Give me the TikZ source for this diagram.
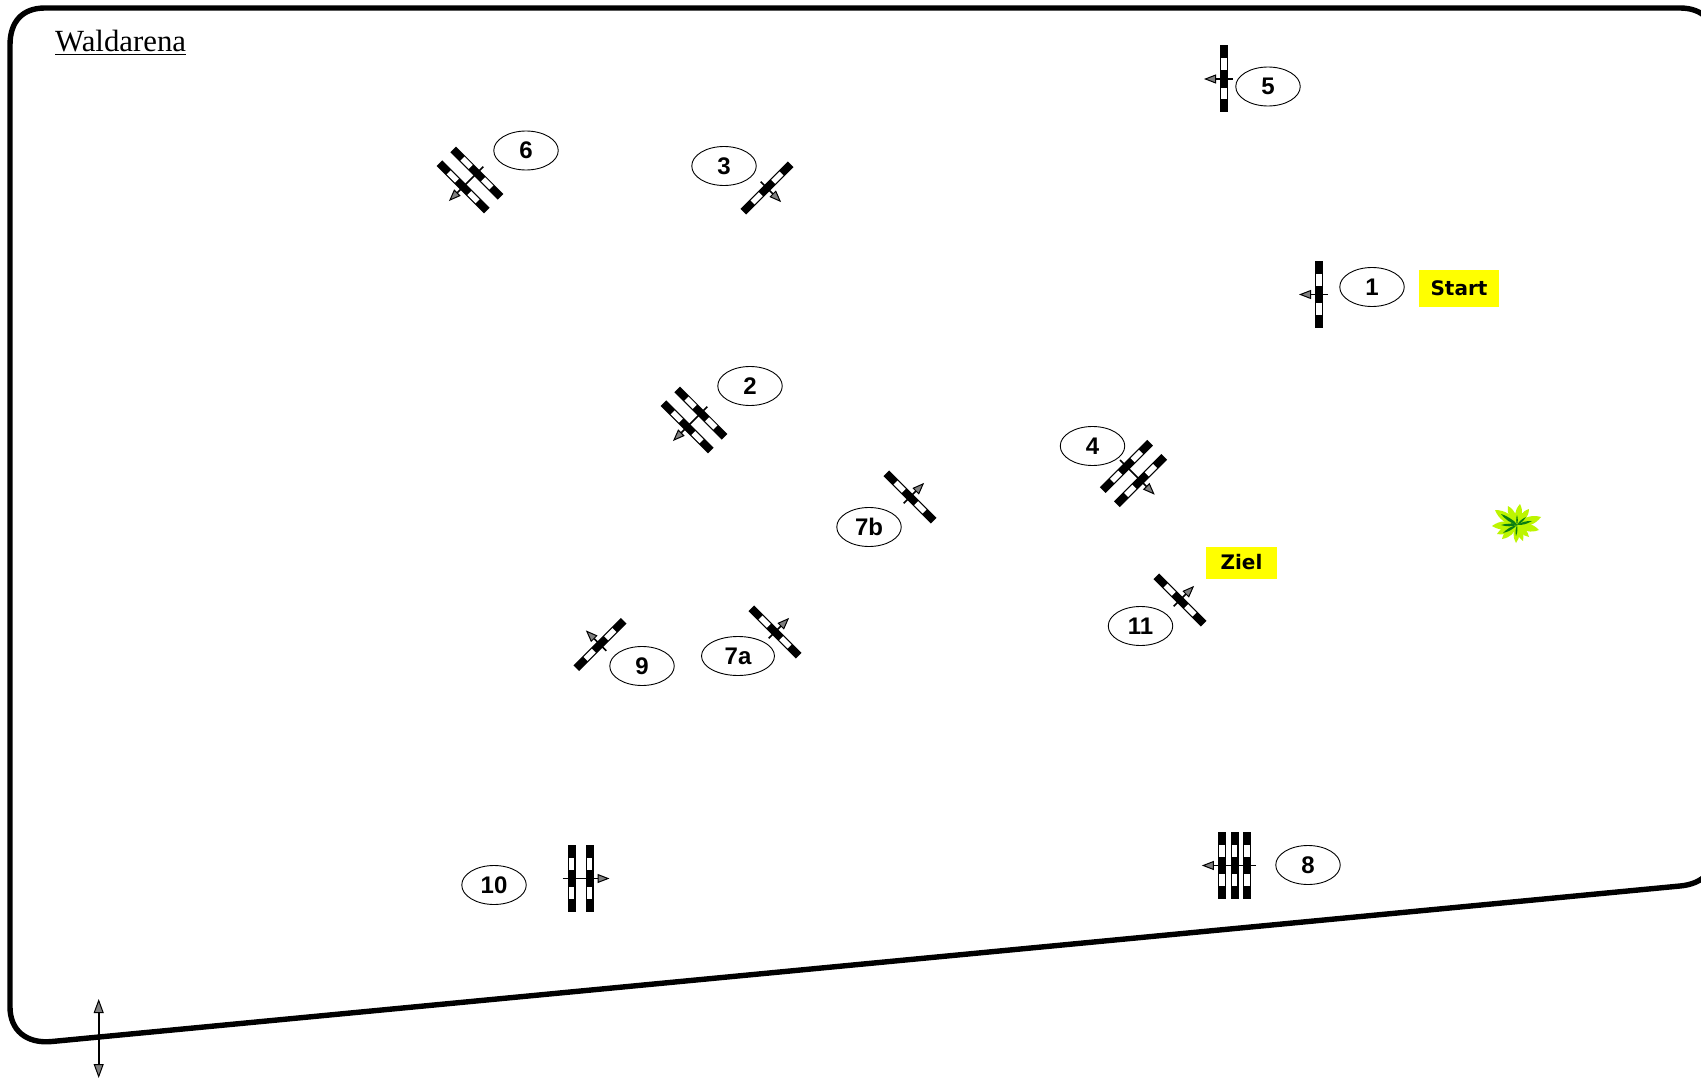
\documentclass[tikz,border=0pt]{standalone}
\usepackage{fontspec}
\setmainfont{Liberation Serif}
\newfontfamily\labelfont[Ligatures=TeX]{Liberation Sans}
\newfontfamily\tagfont{DejaVu Sans}
\usetikzlibrary{arrows.meta,shapes.geometric}
\definecolor{leaflime}{HTML}{BDF500}
\definecolor{leafdark}{HTML}{0A7D12}
\definecolor{tagyellow}{HTML}{FFFF00}
\tikzset{
  frameline/.style={line width=5.4pt,line join=round},
  numlabel/.style={draw=black,line width=0.9pt,ellipse,minimum width=64.5pt,minimum height=39pt,inner sep=0pt,
    font=\labelfont\fontsize{24}{26}\selectfont\bfseries,text=black,text depth=0pt},
  tagbox/.style={fill=tagyellow,inner sep=0pt,font=\tagfont\fontsize{20}{22}\selectfont\bfseries,text=black},
  gatearrow/.style={line width=1.7pt,-{Triangle[length=12pt,width=9pt,line width=1pt,fill=black!50]}},
  scalearrow/.style={line width=1.7pt,{Triangle[length=14pt,width=10pt,line width=1pt,fill=black!50]}-{Triangle[length=14pt,width=10pt,line width=1pt,fill=black!50]}},
  gatebar/.pic={
    \fill[black] (-4,-33.5) rectangle (4,33.5);
    \fill[white] (-2.8,-20.5) rectangle (2.8,-8.7);
    \fill[white] (-2.8,8.7) rectangle (2.8,20.5);
  }
}
% centre x, centre y, rotation, number of bars, pitch
\newcommand{\gatesym}[5]{%
  \begin{scope}[shift={(#1,#2)},rotate=#3]
    \pgfmathsetmacro{\halfrun}{(#4-1)/2*#5}
    \foreach \k in {1,...,#4}{
      \pgfmathsetmacro{\barx}{\halfrun-(\k-1)*#5}
      \pic[transform shape] at (\barx,0) {gatebar};
    }
    \coordinate (tailpt) at (\halfrun+9,0);
    \coordinate (tippt) at (-\halfrun-20,0);
    \draw[gatearrow] (tailpt) -- (tippt);
  \end{scope}%
}
\begin{document}
\begin{tikzpicture}[x=1pt,y=-1pt]
\clip (0,0) rectangle (1701,1078);
\fill[white] (0,0) rectangle (1701,1078);
% frame
\draw[frameline] (10,45) .. controls (10,22) and (22,8) .. (45,8) -- (1680,8)
  .. controls (1703,8) and (1716,22) .. (1716,45) -- (1716,850)
  .. controls (1716,870) and (1703,884) .. (1680,886) -- (52,1041.5)
  .. controls (26,1044) and (10,1030) .. (10,1007) -- cycle;
\node[anchor=base west,inner sep=0pt,font=\fontsize{30.8}{32}\selectfont] (title) at (55,52) {\underline{Waldarena}};
% gates
\gatesym{1319}{294.5}{0}{1}{0}
\gatesym{1224}{79}{0}{1}{0}
\gatesym{767}{188}{135}{1}{0}
\gatesym{470}{180}{45}{2}{19.5}
\gatesym{694}{420}{45}{2}{19.5}
\gatesym{1133.5}{473.5}{135}{2}{20}
\gatesym{910}{497}{225}{1}{0}
\gatesym{775}{632}{225}{1}{0}
\gatesym{1180}{600}{225}{1}{0}
\gatesym{600}{644.5}{-45}{1}{0}
\gatesym{580.5}{878.5}{180}{2}{18}
\gatesym{1234.5}{865.5}{0}{3}{12.7}
% labels
\node[numlabel] (n5) at (1268,86.5) {5};
\node[numlabel] (n6) at (526,150.5) {6};
\node[numlabel] (n3) at (724,166) {3};
\node[numlabel] (n1) at (1372,287) {1};
\node[numlabel] (n2) at (750,386) {2};
\node[numlabel] (n4) at (1092.5,446) {4};
\node[numlabel] (n7b) at (869,527) {7b};
\node[numlabel] (n11) at (1140.5,626) {11};
\node[numlabel] (n9) at (642,666) {9};
\node[numlabel,minimum width=73pt] (n7a) at (738,656) {7a};
\node[numlabel] (n10) at (494,885) {10};
\node[numlabel] (n8) at (1308,865) {8};
% tags
\node[tagbox,minimum width=80pt,minimum height=36pt] (start) at (1459,288.5) {Start};
\node[tagbox,minimum width=71pt,minimum height=32pt] (ziel) at (1241.5,562.5) {Ziel};
% bush
\begin{scope}[shift={(1517,525)}]
  \foreach \tx/\ty in {-22/-15,-9/-19,3/-21,12/-16,24/-8,22/5,12/12,-1/18,-15/14,-25/1,6/16,-20/9}{
    \fill[leaflime] (0,0) to[bend left=34] (\tx,\ty) to[bend left=34] (0,0) -- cycle;
  }
  \foreach \tx/\ty in {-16/-11,-6/-6,0/-10,9/-8,15/-4,-1/11,-14/8,-16/0,-7/-2}{
    \fill[leafdark] (0,0) to[bend left=16] (\tx,\ty) to[bend left=16] (0,0) -- cycle;
  }
\end{scope}
% scale arrow
\coordinate (scaletop) at (98.7,999);
\coordinate (scalebot) at (98.7,1078);
\draw[scalearrow] (scaletop) -- (scalebot);
\end{tikzpicture}
\end{document}
